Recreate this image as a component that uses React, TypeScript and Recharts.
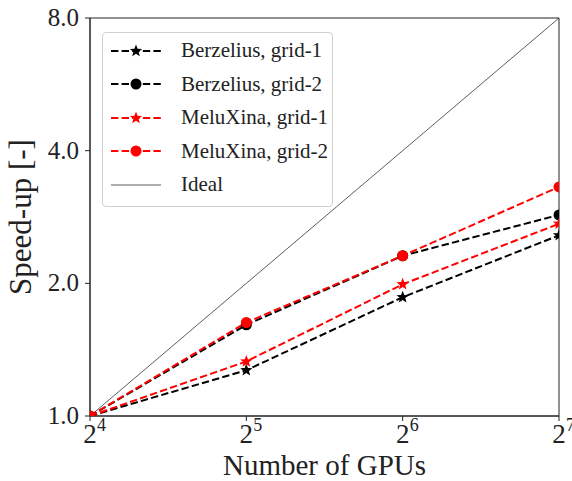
import React from "react";
import { ComposedChart, Line, XAxis, YAxis, ReferenceArea } from "recharts";

const gpus = [16, 32, 64, 128];
const berzeliusGrid1 = [1.0, 1.27, 1.86, 2.57];
const berzeliusGrid2 = [1.0, 1.61, 2.31, 2.86];
const meluxinaGrid1 = [1.0, 1.33, 1.99, 2.73];
const meluxinaGrid2 = [1.0, 1.63, 2.31, 3.31];
const ideal = [1, 2, 4, 8];
const yTicks = [1, 2, 4, 8];

const FONT = "'Liberation Serif', 'DejaVu Serif', serif";

const data = gpus.map((g, i) => ({
  gpus: g,
  b1: berzeliusGrid1[i],
  b2: berzeliusGrid2[i],
  m1: meluxinaGrid1[i],
  m2: meluxinaGrid2[i],
  ideal: ideal[i],
}));

const series = [
  { key: "b1", name: "Berzelius, grid-1", color: "#000000", marker: "star" },
  { key: "b2", name: "Berzelius, grid-2", color: "#000000", marker: "circle" },
  { key: "m1", name: "MeluXina, grid-1", color: "#ff0000", marker: "star" },
  { key: "m2", name: "MeluXina, grid-2", color: "#ff0000", marker: "circle" },
];

const starPoints = (cx: number, cy: number, r: number) => {
  const pts: string[] = [];
  for (let i = 0; i < 10; i++) {
    const rr = i % 2 === 0 ? r : r * 0.42;
    const a = -Math.PI / 2 + (i * Math.PI) / 5;
    pts.push(`${cx + rr * Math.cos(a)},${cy + rr * Math.sin(a)}`);
  }
  return pts.join(" ");
};

const Marker = ({ cx, cy, color, marker }: any) => {
  if (cx == null || cy == null) return null;
  if (marker === "star")
    return <polygon points={starPoints(cx, cy, 6.5)} fill={color} />;
  return <circle cx={cx} cy={cy} r={5.5} fill={color} />;
};

const XTick = ({ x, y, payload }: any) => (
  <g fontFamily={FONT} fill="#222">
    <text x={x} y={y + 20} textAnchor="middle" fontSize={27}>
      2
    </text>
    <text x={x + 7} y={y + 8} textAnchor="start" fontSize={18}>
      {Math.round(Math.log2(payload.value))}
    </text>
  </g>
);

const YTick = ({ x, y, payload }: any) => (
  <text
    x={x - 4}
    y={y + 8}
    textAnchor="end"
    fontFamily={FONT}
    fontSize={25}
    fill="#222"
  >
    {payload.value.toFixed(1)}
  </text>
);

const LegendBox = () => (
  <div
    style={{
      position: "absolute",
      left: 102,
      top: 32,
      width: 231,
      height: 175,
      boxSizing: "border-box",
      border: "1px solid #d0d0d0",
      borderRadius: 4,
      background: "rgba(255,255,255,0.8)",
      paddingTop: 1,
      fontFamily: FONT,
      fontSize: 21,
      color: "#222",
    }}
  >
    {[...series, { key: "ideal", name: "Ideal", color: "#333", marker: "none" }].map(
      (s) => (
        <div
          key={s.key}
          style={{ display: "flex", alignItems: "center", height: 33.5 }}
        >
          <svg width={78} height={20} style={{ flex: "none" }}>
            {s.marker === "none" ? (
              <line x1={8} x2={58} y1={10} y2={10} stroke="#333" strokeWidth={0.8} />
            ) : (
              <>
                <line
                  x1={8}
                  x2={58}
                  y1={10}
                  y2={10}
                  stroke={s.color}
                  strokeWidth={2}
                  strokeDasharray="7.4 3.2"
                />
                <Marker cx={33} cy={10} color={s.color} marker={s.marker} />
              </>
            )}
          </svg>
          <span>{s.name}</span>
        </div>
      )
    )}
  </div>
);

export default function App() {
  return (
    <div style={{ position: "absolute", left: 0, top: 0, width: 572, height: 481 }}>
      <ComposedChart
        width={572}
        height={481}
        data={data}
        margin={{ top: 18, right: 13, left: 0, bottom: 0 }}
      >
        <XAxis
          dataKey="gpus"
          type="number"
          scale="log"
          domain={[16, 128]}
          ticks={gpus}
          tick={<XTick />}
          tickSize={5}
          stroke="#222"
          height={65}
          allowDataOverflow
          label={{
            value: "Number of GPUs",
            position: "insideBottom",
            offset: 6,
            fontFamily: FONT,
            fontSize: 29,
            fill: "#222",
          }}
        />
        <YAxis
          type="number"
          scale="log"
          domain={[1, 8]}
          ticks={yTicks}
          tick={<YTick />}
          tickSize={5}
          stroke="#222"
          width={90}
          allowDataOverflow
          label={{
            value: "Speed-up [-]",
            angle: -90,
            position: "insideLeft",
            dx: 15,
            dy: 0,
            style: { textAnchor: "middle" },
            fontFamily: FONT,
            fontSize: 31,
            fill: "#222",
          }}
        />
        <ReferenceArea
          x1={16}
          x2={128}
          y1={1}
          y2={8}
          fill="none"
          stroke="#222"
          strokeWidth={1}
          ifOverflow="visible"
        />
        <Line
          dataKey="ideal"
          stroke="#333"
          strokeWidth={0.8}
          dot={false}
          activeDot={false}
          isAnimationActive={false}
        />
        {series.map((s) => (
          <Line
            key={s.key}
            dataKey={s.key}
            name={s.name}
            stroke={s.color}
            strokeWidth={2}
            strokeDasharray="7.4 3.2"
            dot={(p: any) => (
              <Marker
                key={`${s.key}-${p.index}`}
                cx={p.cx}
                cy={p.cy}
                color={s.color}
                marker={s.marker}
              />
            )}
            activeDot={false}
            isAnimationActive={false}
          />
        ))}
      </ComposedChart>
      <LegendBox />
    </div>
  );
}
